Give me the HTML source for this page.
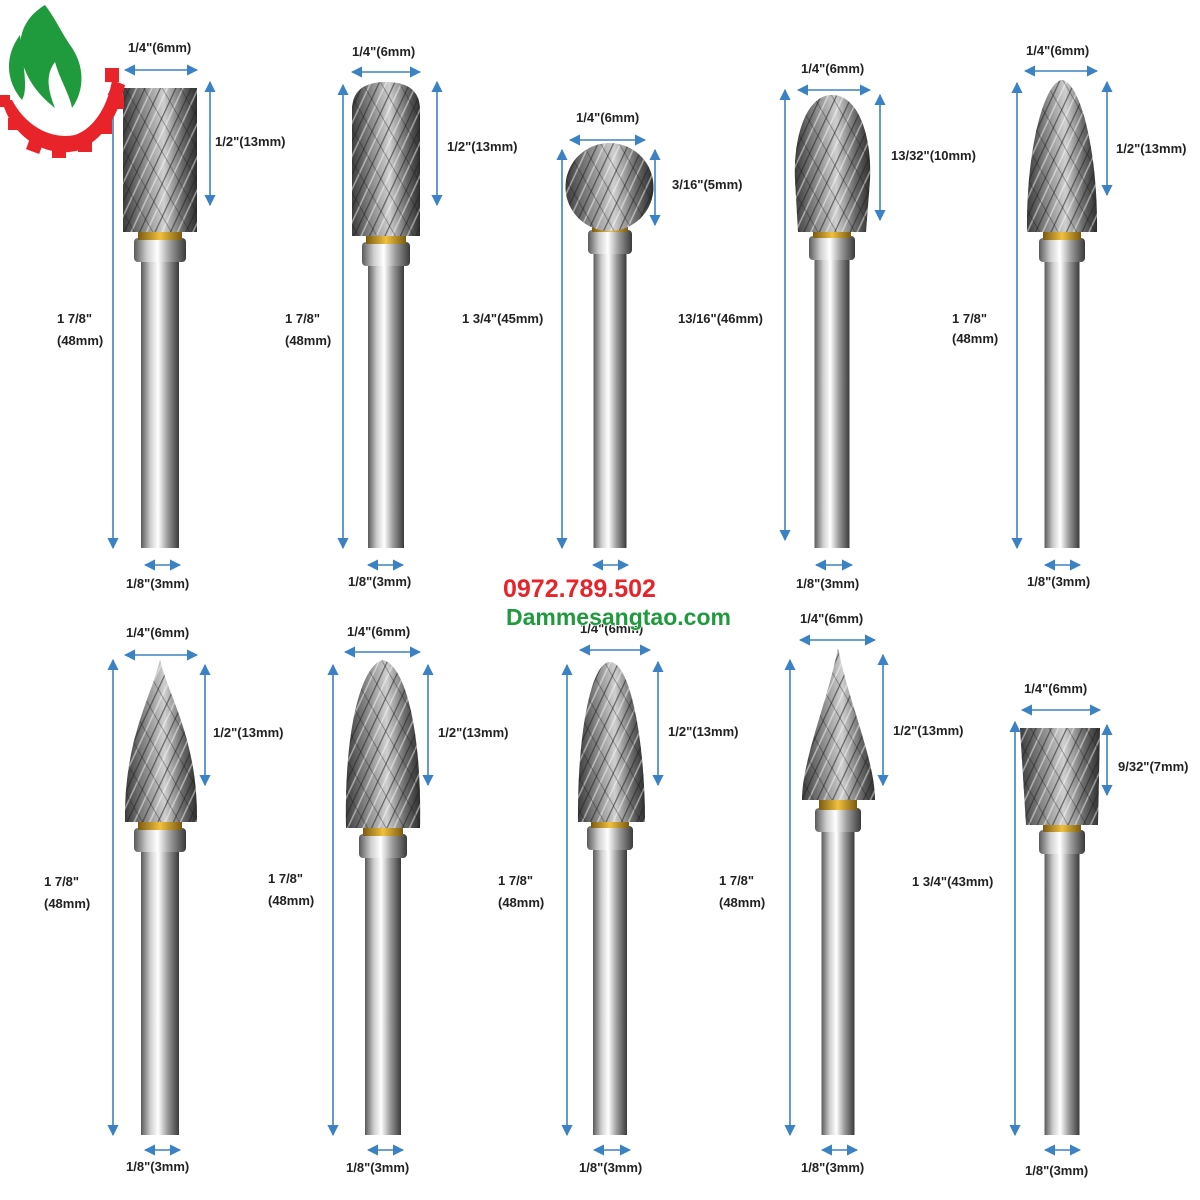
<!DOCTYPE html>
<html><head><meta charset="utf-8"><style>
html,body{margin:0;padding:0;background:#fff;}
svg{display:block;}
text{font-family:"Liberation Sans",Arial,sans-serif;font-weight:bold;font-size:13px;fill:#222;}
</style></head><body>
<svg id="s" width="1200" height="1200" viewBox="0 0 1200 1200" xmlns="http://www.w3.org/2000/svg">
<defs>
<linearGradient id="sh" x1="0" x2="1" y1="0" y2="0">
<stop offset="0" stop-color="#5a5a5a"/><stop offset="0.25" stop-color="#cfcfcf"/><stop offset="0.45" stop-color="#ffffff"/><stop offset="0.7" stop-color="#9a9a9a"/><stop offset="1" stop-color="#3a3a3a"/></linearGradient>
<linearGradient id="hd" x1="0" x2="1" y1="0" y2="0">
<stop offset="0" stop-color="#3c3c3c"/><stop offset="0.35" stop-color="#9a9a9a"/><stop offset="0.55" stop-color="#cfcfcf"/><stop offset="0.8" stop-color="#6a6a6a"/><stop offset="1" stop-color="#2e2e2e"/></linearGradient>
<linearGradient id="gd" x1="0" x2="1"><stop offset="0" stop-color="#7a5a10"/><stop offset="0.5" stop-color="#f0c040"/><stop offset="1" stop-color="#7a5a10"/></linearGradient>
<pattern id="fl" width="14" height="14" patternUnits="userSpaceOnUse" patternTransform="rotate(25)">
<rect width="14" height="14" fill="none"/><line x1="0" y1="0" x2="0" y2="14" stroke="#222" stroke-width="2.5" opacity="0.6"/><line x1="7" y1="0" x2="7" y2="14" stroke="#fff" stroke-width="1.5" opacity="0.5"/></pattern>
<pattern id="fl2" width="16" height="16" patternUnits="userSpaceOnUse" patternTransform="rotate(-30)">
<line x1="0" y1="0" x2="0" y2="16" stroke="#111" stroke-width="1.5" opacity="0.45"/></pattern>
<marker id="a" viewBox="0 0 10 10" refX="9" refY="5" markerWidth="7" markerHeight="7" orient="auto-start-reverse"><path d="M0,0 L10,5 L0,10 Z" fill="#3b82c4"/></marker>
</defs>
<g id="g"></g>
<!-- logo -->
<path d="M45,5 C20,20 15,45 25,70 C32,88 45,100 55,108 C48,90 45,75 55,62 C60,80 70,95 72,108 C85,90 85,65 70,45 C60,30 55,18 45,5 Z" fill="#1f9a3c"/>
<path d="M20,35 C5,55 5,80 22,100 C28,90 24,70 20,35 Z" fill="#1f9a3c"/>
<path d="M2,100 C10,135 45,160 80,150 C100,140 118,120 125,85 L112,80 C108,105 95,128 75,135 C50,140 25,125 12,100 Z" fill="#e8232a"/>
<g fill="#e8232a"><rect x="28" y="138" width="14" height="14" transform="rotate(20 35 145)"/><rect x="52" y="144" width="14" height="14"/><rect x="78" y="138" width="14" height="14"/><rect x="98" y="120" width="14" height="14"/><rect x="110" y="95" width="14" height="14"/><rect x="105" y="68" width="14" height="14"/><rect x="8" y="118" width="12" height="12"/><rect x="0" y="95" width="10" height="12"/></g>
<!-- labels top -->
<text x="128" y="52">1/4"(6mm)</text><text x="215" y="146">1/2"(13mm)</text><text x="57" y="323">1 7/8"</text><text x="57" y="345">(48mm)</text><text x="126" y="588">1/8"(3mm)</text>
<text x="352" y="56">1/4"(6mm)</text><text x="447" y="151">1/2"(13mm)</text><text x="285" y="323">1 7/8"</text><text x="285" y="345">(48mm)</text><text x="348" y="586">1/8"(3mm)</text>
<text x="576" y="122">1/4"(6mm)</text><text x="672" y="189">3/16"(5mm)</text><text x="462" y="323">1 3/4"(45mm)</text>
<text x="801" y="73">1/4"(6mm)</text><text x="891" y="160">13/32"(10mm)</text><text x="678" y="323">13/16"(46mm)</text><text x="796" y="588">1/8"(3mm)</text>
<text x="1026" y="55">1/4"(6mm)</text><text x="1116" y="153">1/2"(13mm)</text><text x="952" y="323">1 7/8"</text><text x="952" y="343">(48mm)</text><text x="1027" y="586">1/8"(3mm)</text>
<!-- labels bottom -->
<text x="126" y="637">1/4"(6mm)</text><text x="213" y="737">1/2"(13mm)</text><text x="44" y="886">1 7/8"</text><text x="44" y="908">(48mm)</text><text x="126" y="1171">1/8"(3mm)</text>
<text x="347" y="636">1/4"(6mm)</text><text x="438" y="737">1/2"(13mm)</text><text x="268" y="883">1 7/8"</text><text x="268" y="905">(48mm)</text><text x="346" y="1172">1/8"(3mm)</text>
<text x="580" y="633">1/4"(6mm)</text><text x="668" y="736">1/2"(13mm)</text><text x="498" y="885">1 7/8"</text><text x="498" y="907">(48mm)</text><text x="579" y="1172">1/8"(3mm)</text>
<text x="800" y="623">1/4"(6mm)</text><text x="893" y="735">1/2"(13mm)</text><text x="719" y="885">1 7/8"</text><text x="719" y="907">(48mm)</text><text x="801" y="1172">1/8"(3mm)</text>
<text x="1024" y="693">1/4"(6mm)</text><text x="1118" y="771">9/32"(7mm)</text><text x="912" y="886">1 3/4"(43mm)</text><text x="1025" y="1175">1/8"(3mm)</text>
<!-- watermark -->
<text x="503" y="597" style="font-size:25px;fill:#e8232a;stroke:#fff;stroke-width:1.5;paint-order:stroke;">0972.789.502</text>
<text x="506" y="625" style="font-size:23px;fill:#1f9a3c;stroke:#fff;stroke-width:1.5;paint-order:stroke;">Dammesangtao.com</text>
</svg>
<script>
var g=document.getElementById('g'),NS='http://www.w3.org/2000/svg';
function el(t,a){var e=document.createElementNS(NS,t);for(var k in a)e.setAttribute(k,a[k]);g.appendChild(e);return e;}
function ln(x1,y1,x2,y2){el('line',{x1:x1,y1:y1,x2:x2,y2:y2,stroke:'#3b82c4','stroke-width':1.6,'marker-start':'url(#a)','marker-end':'url(#a)'});}
// cx, headpath, ringY, shankEnd, shankW, collarW, dims
function burr(cx,head,ringY,end,sw,cw){
 el('rect',{x:cx-sw/2,y:ringY+28,width:sw,height:end-ringY-28,fill:'url(#sh)'});
 el('rect',{x:cx-cw/2,y:ringY+8,width:cw,height:24,rx:4,fill:'url(#sh)'});
 el('rect',{x:cx-cw/2+4,y:ringY,width:cw-8,height:10,fill:'url(#gd)'});
 el('path',{d:head,fill:'url(#hd)'});el('path',{d:head,fill:'url(#fl)'});el('path',{d:head,fill:'url(#fl2)'});
}
// top row
burr(160,'M123,88 L197,88 L197,232 L123,232 Z',230,548,38,52);
burr(386,'M352,110 Q352,82 386,82 Q420,82 420,110 L420,236 L352,236 Z',234,548,36,48);
burr(610,'M610,143 A44,44 0 1 1 609,143 Z',222,548,33,44);
burr(832,'M832,95 C860,95 872,140 870,180 L866,232 L798,232 L795,180 C793,140 805,95 832,95 Z',228,548,35,46);
burr(1062,'M1062,80 C1080,82 1098,150 1097,232 L1027,232 C1026,150 1044,82 1062,80 Z',230,548,35,46);
// bottom row
burr(160,'M160,660 C170,700 198,740 197,822 L125,822 C124,740 150,700 160,660 Z',820,1135,38,52);
burr(383,'M383,660 C405,665 422,730 420,828 L346,828 C344,730 361,665 383,660 Z',826,1135,36,48);
burr(610,'M610,662 C630,662 645,740 645,822 L578,822 C577,740 590,662 610,662 Z',818,1135,34,46);
burr(838,'M838,648 C848,700 875,760 875,800 L802,800 C802,760 828,700 838,648 Z',800,1135,33,46);
burr(1062,'M1020,728 L1100,728 L1098,825 L1026,825 Z',822,1135,35,46);
// dims top
ln(113,85,113,548);ln(125,70,197,70);ln(210,82,210,205);ln(145,565,180,565);
ln(343,85,343,548);ln(352,72,420,72);ln(437,82,437,205);ln(368,565,403,565);
ln(562,150,562,548);ln(570,140,645,140);ln(655,150,655,225);ln(593,565,628,565);
ln(785,90,785,540);ln(798,90,870,90);ln(880,95,880,220);ln(816,565,852,565);
ln(1017,83,1017,548);ln(1025,71,1097,71);ln(1107,82,1107,195);ln(1045,565,1080,565);
// dims bottom
ln(113,660,113,1135);ln(125,655,197,655);ln(205,665,205,785);ln(145,1150,180,1150);
ln(333,665,333,1135);ln(345,652,420,652);ln(428,665,428,785);ln(368,1150,403,1150);
ln(567,665,567,1135);ln(580,650,650,650);ln(658,662,658,785);ln(594,1150,630,1150);
ln(790,660,790,1135);ln(800,640,875,640);ln(883,655,883,785);ln(822,1150,857,1150);
ln(1015,722,1015,1135);ln(1022,710,1100,710);ln(1107,725,1107,795);ln(1045,1150,1080,1150);
</script>
</body></html>
